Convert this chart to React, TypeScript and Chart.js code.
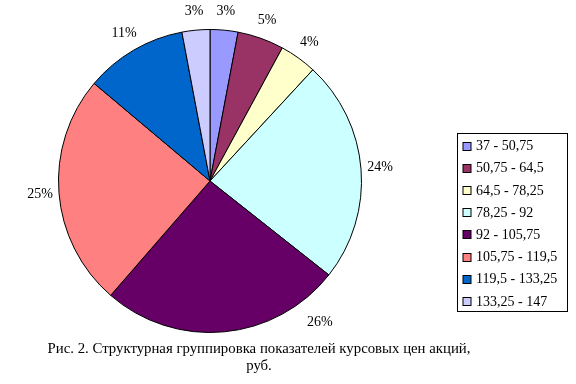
import React, { useEffect, useRef } from "react";
import { Chart, registerables } from "chart.js";

Chart.register(...registerables);

const categories = [
  "37 - 50,75",
  "50,75 - 64,5",
  "64,5 - 78,25",
  "78,25 - 92",
  "92 - 105,75",
  "105,75 - 119,5",
  "119,5 - 133,25",
  "133,25 - 147",
];
const shares = [3, 5, 4, 24, 26, 25, 11, 3];
const colors = [
  "#9999FF",
  "#993366",
  "#FFFFCC",
  "#CCFFFF",
  "#660066",
  "#FF8080",
  "#0066CC",
  "#CCCCFF",
];
const captionLines = [
  "Рис. 2. Структурная группировка показателей курсовых цен акций,",
  "руб.",
];

const FONT = '"Liberation Serif", "Times New Roman", serif';

const labelPlugin = {
  id: "pctLabels",
  afterDatasetsDraw(chart: any) {
    const ctx = chart.ctx;
    const meta = chart.getDatasetMeta(0);
    const data = chart.data.datasets[0].data as number[];
    const total = data.reduce((a, b) => a + b, 0);
    ctx.save();
    ctx.font = `14px ${FONT}`;
    ctx.fillStyle = "#000";
    ctx.textAlign = "center";
    ctx.textBaseline = "middle";
    const maxY = chart.height - 62;
    meta.data.forEach((arc: any, i: number) => {
      const p = arc.getProps(["x", "y", "startAngle", "endAngle", "outerRadius"], true);
      const a = (p.startAngle + p.endAngle) / 2;
      const r = p.outerRadius + 19;
      let lx = p.x + Math.cos(a) * r;
      let ly = p.y + Math.sin(a) * r;
      if (ly > maxY) {
        const dy = maxY - p.y;
        const dx = Math.sqrt(Math.max(r * r - dy * dy, 0)) + 14;
        lx = p.x + (Math.cos(a) >= 0 ? dx : -dx);
        ly = maxY;
      }
      const pct = Math.round((data[i] / total) * 100) + "%";
      ctx.fillText(pct, lx, ly);
    });
    ctx.restore();
  },
};

const legendPlugin = {
  id: "boxLegend",
  afterDraw(chart: any) {
    const ctx = chart.ctx;
    const ds = chart.data.datasets[0];
    const labels = chart.data.labels as string[];
    const left = 457.5;
    const top = 133.5;
    const w = 110;
    const h = 178;
    ctx.save();
    ctx.strokeStyle = "#000";
    ctx.lineWidth = 1;
    ctx.strokeRect(left, top, w, h);
    ctx.font = `14px ${FONT}`;
    ctx.textBaseline = "middle";
    ctx.textAlign = "left";
    const step = 22.2;
    labels.forEach((lab, i) => {
      const cy = top + 12 + i * step;
      ctx.fillStyle = ds.backgroundColor[i];
      ctx.fillRect(left + 5.5, Math.round(cy - 4) + 0.5, 8, 8);
      ctx.strokeRect(left + 5.5, Math.round(cy - 4) + 0.5, 8, 8);
      ctx.fillStyle = "#000";
      ctx.fillText(lab, left + 18.5, cy + 1);
    });
    ctx.restore();
  },
};

const captionPlugin = {
  id: "caption",
  afterDraw(chart: any) {
    const ctx = chart.ctx;
    ctx.save();
    ctx.font = `14.8px ${FONT}`;
    ctx.fillStyle = "#000";
    ctx.textAlign = "center";
    ctx.textBaseline = "middle";
    captionLines.forEach((line, i) => {
      ctx.fillText(line, 259, 349 + i * 17);
    });
    ctx.restore();
  },
};

export default function App() {
  const ref = useRef<HTMLCanvasElement>(null);
  useEffect(() => {
    if (!ref.current) return;
    const chart = new Chart(ref.current, {
      type: "pie",
      data: {
        labels: categories,
        datasets: [
          {
            data: shares,
            backgroundColor: colors,
            borderColor: "#000",
            borderWidth: 1,
          },
        ],
      },
      options: {
        responsive: false,
        animation: false,
        events: [],
        layout: { padding: { left: 58, right: 214, top: 29, bottom: 51 } },
        plugins: {
          legend: { display: false },
          tooltip: { enabled: false },
          title: { display: false },
        },
      },
      plugins: [labelPlugin, legendPlugin, captionPlugin],
    });
    return () => chart.destroy();
  }, []);
  return (
    <div style={{ position: "absolute", left: 0, top: 0, width: 576, height: 384, background: "#fff" }}>
      <canvas ref={ref} width={576} height={384} style={{ width: 576, height: 384 }} />
    </div>
  );
}
